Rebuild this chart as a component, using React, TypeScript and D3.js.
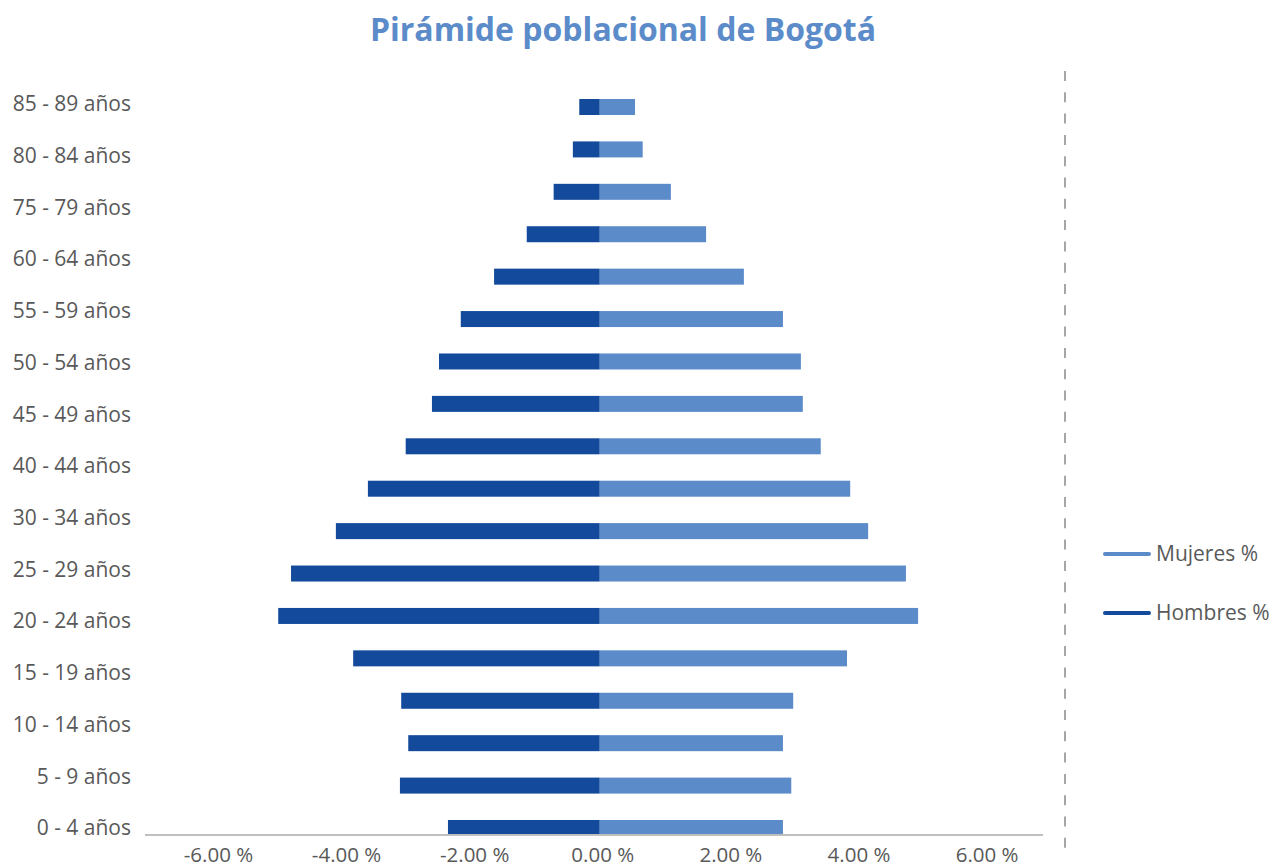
import * as d3 from "d3"

// age groups, bottom to top (one bar per group)
const categories = [
  "0 - 4", "5 - 9", "10 - 14", "15 - 19", "20 - 24", "25 - 29", "30 - 34", "35 - 39", "40 - 44",
  "45 - 49", "50 - 54", "55 - 59", "60 - 64", "65 - 69", "70 - 74", "75 - 79", "80 - 84", "85 - 89"
]

// % of the population
const hombres = [2.37, 3.12, 2.99, 3.10, 3.85, 5.02, 4.82, 4.12, 3.62, 3.03, 2.62, 2.51, 2.17, 1.65, 1.14, 0.72, 0.42, 0.32]
const mujeres = [2.86, 2.99, 2.86, 3.02, 3.86, 4.97, 4.78, 4.19, 3.91, 3.45, 3.17, 3.14, 2.86, 2.25, 1.66, 1.11, 0.67, 0.55]

// the axis only shows these labels (Excel skipped some), bottom to top
const yTickLabels = [
  "0 - 4 años", "5 - 9 años", "10 - 14 años", "15 - 19 años", "20 - 24 años", "25 - 29 años",
  "30 - 34 años", "40 - 44 años", "45 - 49 años", "50 - 54 años", "55 - 59 años", "60 - 64 años",
  "75 - 79 años", "80 - 84 años", "85 - 89 años"
]

const xTicks = [-6, -4, -2, 0, 2, 4, 6]

const series = [
  { name: "Mujeres %", color: "#5B8BC9" },
  { name: "Hombres %", color: "#134A9B" }
]

const width = 1273
const height = 867
const font = "'Open Sans', sans-serif"
const textColor = "#595959"

// plain hyphen for negatives, like the original
const locale = d3.formatLocale({ decimal: ".", thousands: ",", grouping: [3], currency: ["", ""], minus: "-" })
const fmt = (v) => locale.format(".2f")(v) + " %"

export default function App() {
  const x = d3.scaleLinear().domain([-7.1, 6.92]).range([145, 1043])
  const y = d3.scalePoint().domain(categories).range([828, 107])
  const yLab = d3.scalePoint().domain(yTickLabels).range([828, 104])
  const barH = 16

  return (
    <div style={{ position: "absolute", left: 0, top: 0 }}>
      <svg width={width} height={height} style={{ display: "block", background: "#fff" }}>
        <text x={623} y={41} textAnchor="middle" fontFamily={font} fontWeight="bold"
          fontSize={32} fill="#5B8BC9">Pirámide poblacional de Bogotá</text>

        {/* bars */}
        <g>
          {categories.map((c, i) => (
            <g key={c}>
              <rect x={x(-hombres[i])} y={y(c) - barH / 2} width={x(0) - x(-hombres[i])}
                height={barH} fill={series[1].color} />
              <rect x={x(0)} y={y(c) - barH / 2} width={x(mujeres[i]) - x(0)}
                height={barH} fill={series[0].color} />
            </g>
          ))}
        </g>

        {/* x axis */}
        <line x1={x.range()[0]} x2={x.range()[1]} y1={835} y2={835} stroke="#BFBFBF" strokeWidth={2} />
        {xTicks.map(t => (
          <text key={t} x={x(t) + 3} y={855} dy="0.35em" textAnchor="middle" fontFamily={font}
            fontSize={20.5} fill={textColor}>{fmt(t)}</text>
        ))}

        {/* y labels */}
        {yTickLabels.map(l => (
          <text key={l} x={131} y={yLab(l)} dy="0.35em" textAnchor="end" fontFamily={font}
            fontSize={21} fill={textColor}>{l}</text>
        ))}

        {/* dashed separator */}
        <line x1={1065} x2={1065} y1={71} y2={850} stroke="#A6A6A6" strokeWidth={2}
          strokeDasharray="10 11.3" />

        {/* legend */}
        {series.map((s, i) => (
          <g key={s.name} transform={`translate(1105,${554 + i * 59})`}>
            <line x1={0} x2={44} y1={0} y2={0} stroke={s.color} strokeWidth={4} strokeLinecap="round" />
            <text x={51} y={0} dy="0.35em" fontFamily={font} fontSize={21} fill={textColor}>{s.name}</text>
          </g>
        ))}
      </svg>
    </div>
  )
}
